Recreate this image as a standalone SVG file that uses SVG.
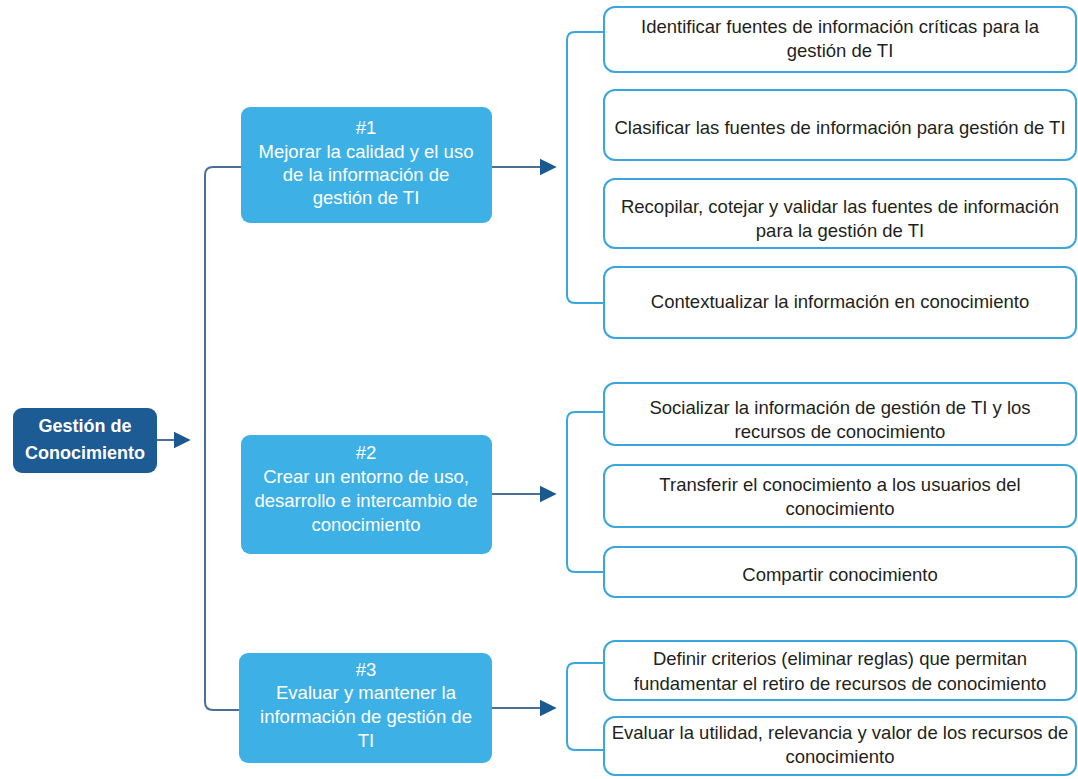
<svg xmlns="http://www.w3.org/2000/svg" width="1078" height="779" viewBox="0 0 1078 779">
<defs>
<marker id="ah" viewBox="0 0 10 10" refX="9" refY="5" markerWidth="17" markerHeight="20" markerUnits="userSpaceOnUse" orient="auto">
<path d="M0,0 L10,5 L0,10 Z" fill="#1b5a91"/>
</marker>
<style>
.root{fill:#1d5b94}
.mid{fill:#3db1e6}
.leaf{fill:#ffffff;stroke:#3ba6de;stroke-width:2}
.t{font-family:"Liberation Sans",Arial,sans-serif;font-size:18.5px;text-anchor:middle}
.tw{fill:#ffffff}
.tb{fill:#231f20}
.rt{font-weight:bold;font-size:18px}
.dk{fill:none;stroke:#4c6f97;stroke-width:2}
.lb{fill:none;stroke:#3ba6de;stroke-width:2}
</style>
</defs>
<rect width="1078" height="779" fill="#ffffff"/>
<g id="connectors">
<path class="dk" d="M157,440 H189" marker-end="url(#ah)"/>
<path class="dk" d="M241,167 H213 Q205,167 205,175 V702 Q205,710 213,710 H239"/>
<path class="dk" d="M492,167 H555" marker-end="url(#ah)"/>
<path class="dk" d="M492,494 H555" marker-end="url(#ah)"/>
<path class="dk" d="M492,708 H555" marker-end="url(#ah)"/>
<path class="lb" d="M604,32 H575 Q567,32 567,40 V295 Q567,303 575,303 H604"/>
<path class="lb" d="M604,412 H575 Q567,412 567,420 V564 Q567,572 575,572 H604"/>
<path class="lb" d="M604,663 H575 Q567,663 567,671 V742 Q567,750 575,750 H604"/>
</g>
<g id="root">
<rect class="root" x="13" y="408" width="144" height="65" rx="9"/>
<text class="t tw rt" x="85" y="432">Gestión de</text>
<text class="t tw rt" x="85" y="459">Conocimiento</text>
</g>
<g id="n1">
<rect class="mid" x="241" y="107" width="251" height="116" rx="9"/>
<text class="t tw" x="366" y="134">#1</text>
<text class="t tw" x="366" y="158">Mejorar la calidad y el uso</text>
<text class="t tw" x="366" y="181">de la información de</text>
<text class="t tw" x="366" y="204">gestión de TI</text>
</g>
<g id="n2">
<rect class="mid" x="241" y="435" width="251" height="119" rx="9"/>
<text class="t tw" x="366" y="459">#2</text>
<text class="t tw" x="366" y="483">Crear un entorno de uso,</text>
<text class="t tw" x="366" y="507">desarrollo e intercambio de</text>
<text class="t tw" x="366" y="531">conocimiento</text>
</g>
<g id="n3">
<rect class="mid" x="239" y="653" width="253" height="110" rx="9"/>
<text class="t tw" x="366" y="676">#3</text>
<text class="t tw" x="366" y="699">Evaluar y mantener la</text>
<text class="t tw" x="366" y="723">información de gestión de</text>
<text class="t tw" x="366" y="747">TI</text>
</g>
<g id="l1">
<rect class="leaf" x="604" y="7" width="472" height="65" rx="11"/>
<text class="t tb" x="840" y="33">Identificar fuentes de información críticas para la</text>
<text class="t tb" x="840" y="57">gestión de TI</text>
</g>
<g id="l2">
<rect class="leaf" x="604" y="90" width="472" height="70" rx="11"/>
<text class="t tb" x="840" y="134">Clasificar las fuentes de información para gestión de TI</text>
</g>
<g id="l3">
<rect class="leaf" x="604" y="179" width="472" height="69" rx="11"/>
<text class="t tb" x="840" y="213">Recopilar, cotejar y validar las fuentes de información</text>
<text class="t tb" x="840" y="237">para la gestión de TI</text>
</g>
<g id="l4">
<rect class="leaf" x="604" y="267" width="472" height="71" rx="11"/>
<text class="t tb" x="840" y="308">Contextualizar la información en conocimiento</text>
</g>
<g id="l5">
<rect class="leaf" x="604" y="383" width="472" height="62" rx="11"/>
<text class="t tb" x="840" y="414">Socializar la información de gestión de TI y los</text>
<text class="t tb" x="840" y="438">recursos de conocimiento</text>
</g>
<g id="l6">
<rect class="leaf" x="604" y="465" width="472" height="62" rx="11"/>
<text class="t tb" x="840" y="491">Transferir el conocimiento a los usuarios del</text>
<text class="t tb" x="840" y="515">conocimiento</text>
</g>
<g id="l7">
<rect class="leaf" x="604" y="547" width="472" height="50" rx="11"/>
<text class="t tb" x="840" y="581">Compartir conocimiento</text>
</g>
<g id="l8">
<rect class="leaf" x="604" y="641" width="472" height="59" rx="11"/>
<text class="t tb" x="840" y="665">Definir criterios (eliminar reglas) que permitan</text>
<text class="t tb" x="840" y="690">fundamentar el retiro de recursos de conocimiento</text>
</g>
<g id="l9">
<rect class="leaf" x="604" y="717" width="472" height="58" rx="11"/>
<text class="t tb" x="840" y="739">Evaluar la utilidad, relevancia y valor de los recursos de</text>
<text class="t tb" x="840" y="763">conocimiento</text>
</g>
</svg>
